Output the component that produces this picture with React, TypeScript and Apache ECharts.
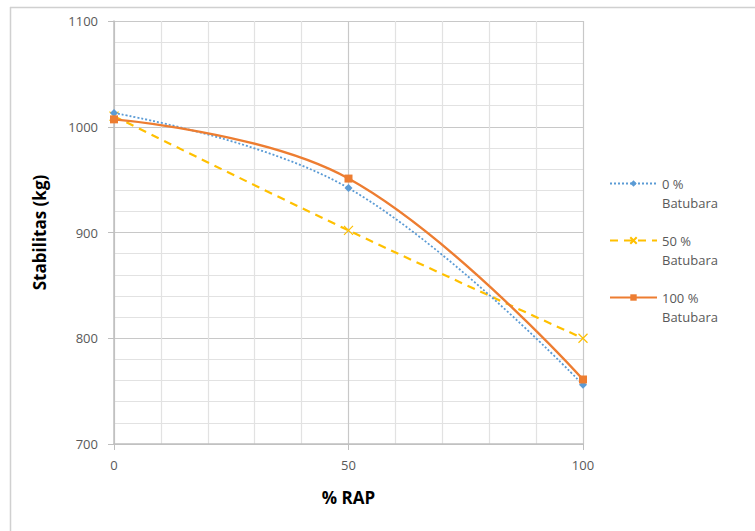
import React, { useEffect, useRef } from "react";
import * as echarts from "echarts";

const rapPercent = [0, 50, 100];
const batubara0 = [1013, 942, 756];
const batubara50 = [1010, 902, 800];
const batubara100 = [1007, 951, 761];
const seriesNames = ["0 %\nBatubara", "50 %\nBatubara", "100 %\nBatubara"];

const toPairs = (ys: number[]) => rapPercent.map((x, i) => [x, ys[i]]);

export default function App() {
  const ref = useRef<HTMLDivElement>(null);
  useEffect(() => {
    if (!ref.current) return;
    const chart = echarts.init(ref.current, undefined, { renderer: "svg" });
    const font = "'Open Sans', 'Liberation Sans', sans-serif";
    const labelColor = "#595959";
    chart.setOption({
      animation: false,
      backgroundColor: "#ffffff",
      textStyle: { fontFamily: font },
      graphic: [
        { type: "line", shape: { x1: 10, y1: 7.5, x2: 755, y2: 7.5 }, style: { stroke: "#d0d0d0", lineWidth: 1.5 } },
        { type: "line", shape: { x1: 10.5, y1: 7, x2: 10.5, y2: 531 }, style: { stroke: "#d0d0d0", lineWidth: 1.5 } },
      ],
      grid: { left: 114, right: 172, top: 21, bottom: 87, containLabel: false },
      legend: {
        orient: "vertical",
        left: 604,
        top: 150,
        itemGap: 0,
        itemWidth: 47,
        itemHeight: 8,
        align: "left",
        formatter: (name: string) => "\u00a0\n" + name,
        textStyle: { color: labelColor, fontSize: 13, lineHeight: 19, fontFamily: font },
        data: seriesNames,
      },
      xAxis: {
        type: "value",
        min: 0,
        max: 100,
        interval: 50,
        name: "% RAP",
        nameLocation: "middle",
        nameGap: 45,
        nameTextStyle: { fontSize: 17, fontWeight: "bold", color: "#000", fontFamily: font },
        axisLine: { show: true, lineStyle: { color: "#bfbfbf", width: 1.5 } },
        axisTick: { show: true, length: 6, lineStyle: { color: "#bfbfbf" } },
        axisLabel: { color: labelColor, fontSize: 13, margin: 14, formatter: (v: number) => String(v) },
        splitLine: { show: true, lineStyle: { color: "#c8c8c8", width: 1.2 } },
        minorTick: { show: false, splitNumber: 5 },
        minorSplitLine: { show: true, lineStyle: { color: "#e2e2e2", width: 1.2 } },
      },
      yAxis: {
        type: "value",
        min: 700,
        max: 1100,
        interval: 100,
        name: "Stabilitas (kg)",
        nameLocation: "middle",
        nameGap: 66,
        nameTextStyle: { fontSize: 17, fontWeight: "bold", color: "#000", fontFamily: font },
        axisLine: { show: true, lineStyle: { color: "#bfbfbf", width: 1.5 } },
        axisTick: { show: true, length: 6, lineStyle: { color: "#bfbfbf" } },
        axisLabel: { color: labelColor, fontSize: 13, margin: 16, formatter: (v: number) => String(v) },
        splitLine: { show: true, lineStyle: { color: "#c8c8c8", width: 1.2 } },
        minorTick: { show: false, splitNumber: 5 },
        minorSplitLine: { show: true, lineStyle: { color: "#e2e2e2", width: 1.2 } },
      },
      series: [
        {
          name: seriesNames[0],
          type: "line",
          data: toPairs(batubara0),
          smooth: 0.4,
          symbol: "diamond",
          symbolSize: 8,
          itemStyle: { color: "#5B9BD5" },
          lineStyle: { color: "#5B9BD5", width: 1.8, type: [2, 2] },
          z: 3,
        },
        {
          name: seriesNames[1],
          type: "line",
          data: toPairs(batubara50),
          smooth: 0.4,
          symbol: "path://M0,0L10,10M10,0L0,10",
          symbolSize: 9,
          itemStyle: { color: "none", borderColor: "#FFC000", borderWidth: 1.2 },
          lineStyle: { color: "#FFC000", width: 2.2, type: [8, 6] },
          z: 2,
        },
        {
          name: seriesNames[2],
          type: "line",
          data: toPairs(batubara100),
          smooth: 0.4,
          symbol: "rect",
          symbolSize: 8,
          itemStyle: { color: "#ED7D31" },
          lineStyle: { color: "#ED7D31", width: 2.4 },
          z: 4,
        },
      ],
    });
    return () => chart.dispose();
  }, []);
  return <div ref={ref} style={{ position: "fixed", left: 0, top: 0, width: 755, height: 531 }} />;
}
